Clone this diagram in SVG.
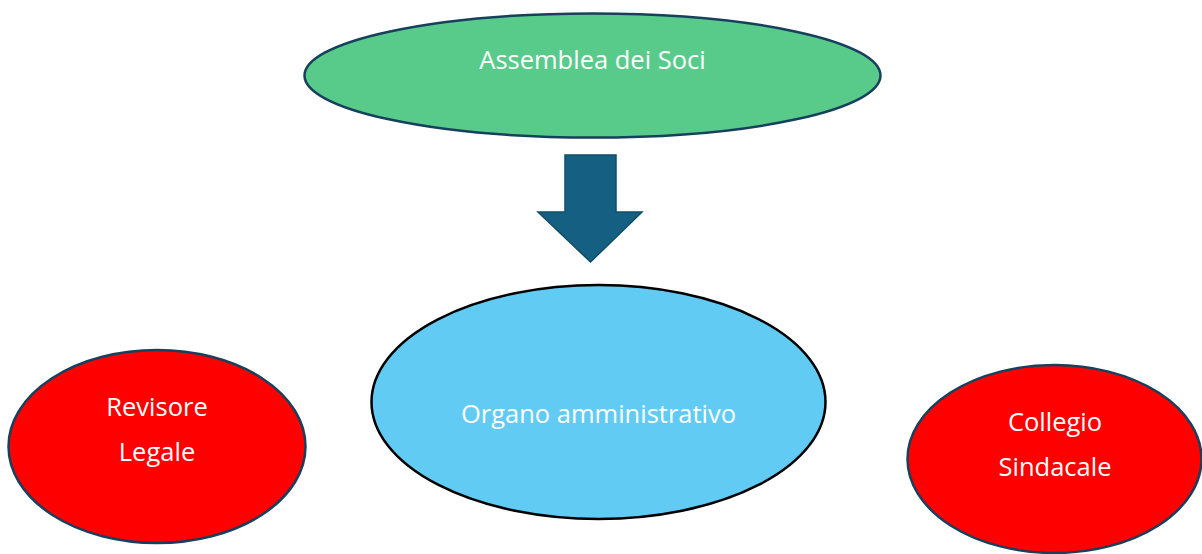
<svg xmlns="http://www.w3.org/2000/svg" width="1202" height="554" viewBox="0 0 1202 554">
<style>
.lbl{font-family:"Open Sans","Liberation Sans",sans-serif;font-size:25.5px;fill:#ffffff;text-anchor:middle;dominant-baseline:central}
.sh{stroke:#17405c;stroke-width:2.5}
</style>
<rect width="1202" height="554" fill="#ffffff"/>
<g id="assemblea">
<ellipse class="sh" cx="592.5" cy="75.5" rx="288" ry="62" fill="#58cb8b"/>
<text class="lbl" x="592.5" y="59">Assemblea dei Soci</text>
</g>
<g id="connectors">
<path d="M565,155 H616 V212 H642 L590.5,262 L538,212 H565 Z" fill="#156082" stroke="#0f4d69" stroke-width="1.5"/>
</g>
<g id="organo">
<ellipse cx="598.5" cy="402" rx="227" ry="117" fill="#61cbf3" stroke="#000000" stroke-width="2.5"/>
<text class="lbl" x="598.5" y="413">Organo amministrativo</text>
</g>
<g id="revisore">
<ellipse class="sh" cx="157" cy="446.5" rx="148.5" ry="96.5" fill="#ff0000"/>
<text class="lbl" x="157" y="406">Revisore</text>
<text class="lbl" x="157" y="451">Legale</text>
</g>
<g id="collegio">
<ellipse class="sh" cx="1054.5" cy="459" rx="147" ry="94" fill="#ff0000"/>
<text class="lbl" x="1055" y="421">Collegio</text>
<text class="lbl" x="1055" y="466">Sindacale</text>
</g>
</svg>
